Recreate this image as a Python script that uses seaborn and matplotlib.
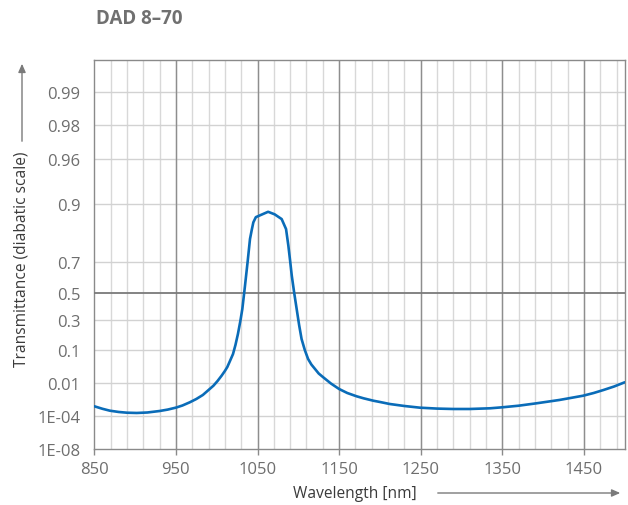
import numpy as np
import pandas as pd
import matplotlib
matplotlib.use("Agg")
import matplotlib.pyplot as plt
from matplotlib.patches import FancyArrowPatch
import seaborn as sns

# ---- data ----
wavelength = [850, 860, 869, 880, 890, 902, 915, 930, 940, 950, 958, 967, 975,
              983, 990, 996, 1001, 1006, 1010, 1013, 1016, 1020, 1023, 1026,
              1029, 1031.4, 1034.5, 1038, 1040.8, 1043, 1044.9, 1048, 1063,
              1071, 1079.6, 1085, 1087.8, 1090, 1092, 1095, 1098, 1101, 1104,
              1108, 1112, 1116, 1120.5, 1125, 1130.6, 1140, 1150, 1160, 1171.5,
              1180, 1192, 1200, 1212, 1230, 1249, 1270, 1290, 1310, 1335, 1350,
              1370, 1392, 1420, 1449, 1462, 1474, 1487, 1500]
transmittance = [5.6e-4, 3.72e-4, 2.7e-4, 2.15e-4, 1.89e-4, 1.8e-4, 1.96e-4,
                 2.55e-4, 3.26e-4, 4.5e-4, 6.32e-4, 1.02e-3, 1.62e-3, 2.73e-3,
                 4.92e-3, 7.8e-3, 0.0123, 0.0196, 0.0284, 0.0378, 0.0542, 0.083,
                 0.128, 0.195, 0.289, 0.381, 0.545, 0.704, 0.802, 0.834, 0.856,
                 0.870, 0.883, 0.877, 0.865, 0.836, 0.776, 0.704, 0.620, 0.502,
                 0.381, 0.259, 0.163, 0.101, 0.063, 0.0448, 0.0329, 0.0234,
                 0.0171, 9.7e-3, 5.5e-3, 3.48e-3, 2.31e-3, 1.78e-3, 1.28e-3,
                 1.07e-3, 7.96e-4, 5.85e-4, 4.47e-4, 3.85e-4, 3.6e-4, 3.6e-4,
                 4.04e-4, 4.75e-4, 6.12e-4, 8.83e-4, 1.42e-3, 2.49e-3, 3.48e-3,
                 4.92e-3, 7.18e-3, 0.0109]
y_tick_values = [1e-8, 1e-4, 0.01, 0.1, 0.3, 0.5, 0.7, 0.9, 0.96, 0.98, 0.99]
y_tick_labels = ["1E-08", "1E-04", "0.01", "0.1", "0.3", "0.5", "0.7", "0.9",
                 "0.96", "0.98", "0.99"]
x_tick_values = [850, 950, 1050, 1150, 1250, 1350, 1450]
title = "DAD 8\u201370"
xlabel = "Wavelength [nm]"
ylabel = "Transmittance (diabatic scale)"

df = pd.DataFrame({"wl": wavelength, "T": transmittance})

sns.set_theme(style="white")
plt.rcParams["font.family"] = ["Open Sans", "DejaVu Sans"]

W, H = 628, 506
fig = plt.figure(figsize=(W / 100, H / 100), dpi=100)
ax = fig.add_axes([94.3 / W, 1 - 450 / H, (624.7 - 94.3) / W, (450 - 61) / H])


def fwd(t):
    t = np.clip(np.asarray(t, dtype=float), 1e-300, 1 - 1e-15)
    return -np.log10(-np.log10(t))


def inv(f):
    f = np.asarray(f, dtype=float)
    return 10 ** (-(10 ** (-f)))


ax.set_yscale("function", functions=(fwd, inv))

sns.lineplot(data=df, x="wl", y="T", ax=ax, color="#0a6cb8", linewidth=1.9,
             zorder=5, sort=False)

ax.set_xlim(850, 1500)
ax.set_ylim(1e-8, 0.99493)

# grid
for xv in np.arange(870, 1500, 20):
    ax.axvline(xv, color="#d8d8d8", lw=1.0, zorder=1)
for xv in x_tick_values[1:]:
    ax.axvline(xv, color="#8e8e8e", lw=1.0, zorder=2)
for yv in y_tick_values[1:]:
    if yv == 0.5:
        ax.axhline(yv, color="#7a7a7a", lw=1.3, zorder=3)
    else:
        ax.axhline(yv, color="#d2d2d2", lw=1.0, zorder=1.5)

ax.set_yticks(y_tick_values)
ax.set_yticklabels(y_tick_labels)
ax.yaxis.set_minor_locator(matplotlib.ticker.NullLocator())
ax.set_xticks(x_tick_values)
ax.set_xticklabels([str(v) for v in x_tick_values])

ax.tick_params(axis="y", length=0, pad=10, labelsize=12, labelcolor="#6e6e6e")
ax.tick_params(axis="x", length=4, width=1, direction="out", color="#8a8a8a",
               pad=5, labelsize=12, labelcolor="#6e6e6e", bottom=True)

for s in ax.spines.values():
    s.set_color("#8a8a8a")
    s.set_linewidth(1.0)
    s.set_visible(True)

ax.set_xlabel("")
ax.set_ylabel("")

# title
fig.text(96 / W, 1 - 19 / H, title, fontsize=13.5, fontweight="bold",
         color="#707070", ha="left", va="center")

# y label with arrow
fig.text(22 / W, 1 - 259 / H, ylabel, rotation=90, fontsize=11.2,
         color="#3a3a3a", ha="center", va="center")
fig.patches.append(FancyArrowPatch((22 / W, 1 - 145 / H), (22 / W, 1 - 62 / H),
                                   transform=fig.transFigure,
                                   arrowstyle="-|>,head_length=5,head_width=2.2",
                                   color="#7a7a7a", lw=1.0, mutation_scale=1))

# x label with arrow
fig.text(355 / W, 1 - 494 / H, xlabel, fontsize=11.2, color="#3a3a3a",
         ha="center", va="center")
fig.patches.append(FancyArrowPatch((435 / W, 1 - 494 / H), (623 / W, 1 - 494 / H),
                                   transform=fig.transFigure,
                                   arrowstyle="-|>,head_length=5,head_width=2.2",
                                   color="#7a7a7a", lw=1.0, mutation_scale=1))

fig.savefig("out.png", dpi=100)
